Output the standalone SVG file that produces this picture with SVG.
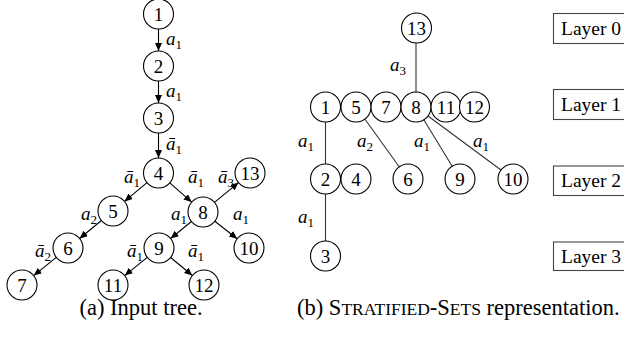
<svg xmlns="http://www.w3.org/2000/svg" width="624" height="341" viewBox="0 0 624 341">
<defs>
<marker id="arr" markerUnits="userSpaceOnUse" markerWidth="9" markerHeight="8" refX="8" refY="3.5" orient="auto">
<path d="M0,0 L8,3.5 L0,7 z" fill="#000"/>
</marker>
<style>
.n circle{fill:#fff;stroke:#000;stroke-width:1.1}
.n text{font-family:"Liberation Serif",serif;font-size:19px;text-anchor:middle;fill:#000}
.e line{stroke:#000;stroke-width:1.1}
.a line{marker-end:url(#arr)}
.s line{stroke:#333}
.l{font-family:"Liberation Serif",serif;font-size:19px;font-style:italic;fill:#000}
.sub{font-size:13px;font-style:normal}
.lb rect{fill:#fff;stroke:#444;stroke-width:1.1}
.lb text{font-family:"Liberation Serif",serif;font-size:19.5px;fill:#000}
.cap{font-family:"Liberation Serif",serif;font-size:22.5px;fill:#000}
</style>
</defs>
<rect width="624" height="341" fill="#fff"/>

<g id="connectors-a" class="e a">
<line x1="158.5" y1="29" x2="158.5" y2="51"/>
<line x1="158.5" y1="81" x2="158.5" y2="103"/>
<line x1="158.5" y1="133" x2="158.5" y2="158"/>
<line x1="147" y1="182.6" x2="124.5" y2="201.4"/>
<line x1="169.8" y1="182.9" x2="191.7" y2="202.1"/>
<line x1="214.5" y1="202.4" x2="238.5" y2="182.6"/>
<line x1="101.4" y1="220.5" x2="79.6" y2="238.5"/>
<line x1="56.3" y1="257.4" x2="33.7" y2="275.6"/>
<line x1="191.4" y1="221.5" x2="170.6" y2="238.5"/>
<line x1="214.8" y1="221.2" x2="237.2" y2="238.8"/>
<line x1="147.3" y1="257.4" x2="124.7" y2="275.6"/>
<line x1="170.6" y1="257.5" x2="192.4" y2="275.5"/>
</g>

<g id="labels-a" class="l">
<text x="166" y="45">a<tspan class="sub" dy="4">1</tspan></text>
<text x="166" y="97">a<tspan class="sub" dy="4">1</tspan></text>
<text x="166" y="150">ā<tspan class="sub" dy="4">1</tspan></text>
<text x="124" y="183">ā<tspan class="sub" dy="4">1</tspan></text>
<text x="188" y="183">ā<tspan class="sub" dy="4">1</tspan></text>
<text x="218" y="183">ā<tspan class="sub" dy="4">3</tspan></text>
<text x="81" y="220">a<tspan class="sub" dy="4">2</tspan></text>
<text x="171" y="220">a<tspan class="sub" dy="4">1</tspan></text>
<text x="233" y="220">a<tspan class="sub" dy="4">1</tspan></text>
<text x="35" y="257">ā<tspan class="sub" dy="4">2</tspan></text>
<text x="127" y="257">ā<tspan class="sub" dy="4">1</tspan></text>
<text x="188" y="257">ā<tspan class="sub" dy="4">1</tspan></text>
</g>

<g id="a1" class="n"><circle cx="158.5" cy="14" r="15"/><text x="158.5" y="20.5">1</text></g>
<g id="a2" class="n"><circle cx="158.5" cy="66" r="15"/><text x="158.5" y="72.5">2</text></g>
<g id="a3" class="n"><circle cx="158.5" cy="118" r="15"/><text x="158.5" y="124.5">3</text></g>
<g id="a4" class="n"><circle cx="158.5" cy="173" r="15"/><text x="158.5" y="179.5">4</text></g>
<g id="a5" class="n"><circle cx="113" cy="211" r="15"/><text x="113" y="217.5">5</text></g>
<g id="a6" class="n"><circle cx="68" cy="248" r="15"/><text x="68" y="254.5">6</text></g>
<g id="a7" class="n"><circle cx="22" cy="285" r="15"/><text x="22" y="291.5">7</text></g>
<g id="a8" class="n"><circle cx="203" cy="212" r="15"/><text x="203" y="218.5">8</text></g>
<g id="a9" class="n"><circle cx="159" cy="248" r="15"/><text x="159" y="254.5">9</text></g>
<g id="a10" class="n"><circle cx="249" cy="248" r="15"/><text x="249" y="254.5">10</text></g>
<g id="a11" class="n"><circle cx="113" cy="285" r="15"/><text x="113" y="291.5">11</text></g>
<g id="a12" class="n"><circle cx="204" cy="285" r="15"/><text x="204" y="291.5">12</text></g>
<g id="a13" class="n"><circle cx="250" cy="173" r="15"/><text x="250" y="179.5">13</text></g>

<text class="cap" x="141" y="315" text-anchor="middle">(a)  Input tree.</text>

<g id="connectors-b" class="e s">
<line x1="416" y1="43" x2="416" y2="92"/>
<line x1="325.5" y1="122" x2="325.5" y2="164"/>
<line x1="325.5" y1="194" x2="325.5" y2="241"/>
<line x1="364.8" y1="119" x2="399.2" y2="166.8"/>
<line x1="423.8" y1="119.8" x2="452.2" y2="166.2"/>
<line x1="428" y1="116" x2="501" y2="170"/>
</g>

<g id="labels-b" class="l">
<text x="390" y="71">a<tspan class="sub" dy="4">3</tspan></text>
<text x="298" y="147">a<tspan class="sub" dy="4">1</tspan></text>
<text x="357" y="147">a<tspan class="sub" dy="4">2</tspan></text>
<text x="414" y="147">a<tspan class="sub" dy="4">1</tspan></text>
<text x="473" y="147">a<tspan class="sub" dy="4">1</tspan></text>
<text x="298" y="223">a<tspan class="sub" dy="4">1</tspan></text>
</g>

<g id="b13" class="n"><circle cx="416.5" cy="28" r="15"/><text x="416.5" y="34.5">13</text></g>
<g id="b1" class="n"><circle cx="325.5" cy="107" r="15"/><text x="325.5" y="113.5">1</text></g>
<g id="b5" class="n"><circle cx="356" cy="107" r="15"/><text x="356" y="113.5">5</text></g>
<g id="b7" class="n"><circle cx="386" cy="107" r="15"/><text x="386" y="113.5">7</text></g>
<g id="b8" class="n"><circle cx="416" cy="107" r="15"/><text x="416" y="113.5">8</text></g>
<g id="b11" class="n"><circle cx="446" cy="107" r="15"/><text x="446" y="113.5">11</text></g>
<g id="b12" class="n"><circle cx="474.5" cy="107" r="15"/><text x="474.5" y="113.5">12</text></g>
<g id="b2" class="n"><circle cx="325.5" cy="179" r="15"/><text x="325.5" y="185.5">2</text></g>
<g id="b4" class="n"><circle cx="356" cy="179" r="15"/><text x="356" y="185.5">4</text></g>
<g id="b6" class="n"><circle cx="408" cy="179" r="15"/><text x="408" y="185.5">6</text></g>
<g id="b9" class="n"><circle cx="460" cy="179" r="15"/><text x="460" y="185.5">9</text></g>
<g id="b10" class="n"><circle cx="513" cy="179" r="15"/><text x="513" y="185.5">10</text></g>
<g id="b3" class="n"><circle cx="325.5" cy="256" r="15"/><text x="325.5" y="262.5">3</text></g>

<g id="layer0" class="lb"><rect x="553.5" y="13.5" width="80" height="30"/><text x="561" y="35">Layer 0</text></g>
<g id="layer1" class="lb"><rect x="553.5" y="89.5" width="80" height="30"/><text x="561" y="111">Layer 1</text></g>
<g id="layer2" class="lb"><rect x="553.5" y="166" width="80" height="29.5"/><text x="561" y="187">Layer 2</text></g>
<g id="layer3" class="lb"><rect x="553.5" y="242" width="80" height="28.5"/><text x="561" y="263">Layer 3</text></g>

<text class="cap" x="297" y="315">(b)  S<tspan font-size="17.5">TRATIFIED</tspan>-S<tspan font-size="17.5">ETS</tspan> representation.</text>
</svg>
